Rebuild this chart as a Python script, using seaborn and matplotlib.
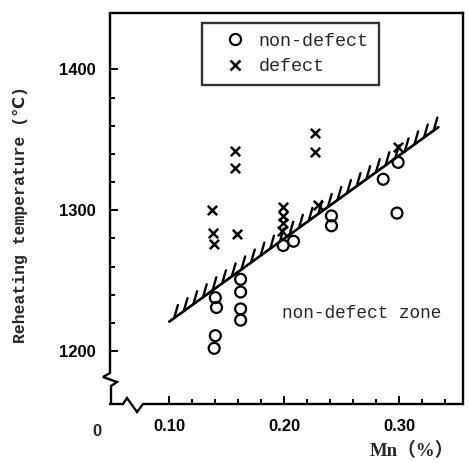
import numpy as np
import pandas as pd
import matplotlib
matplotlib.use("Agg")
import matplotlib.pyplot as plt
import matplotlib.patheffects as pe
from matplotlib.lines import Line2D
import seaborn as sns

# ---- data ----
nd_mn = [0.140, 0.141, 0.140, 0.139, 0.162, 0.162, 0.162, 0.162,
         0.199, 0.208, 0.241, 0.241, 0.286, 0.299, 0.298]
nd_temp = [1238, 1231, 1211, 1202, 1251, 1242, 1230, 1222,
           1275, 1278, 1296, 1289, 1322, 1334, 1298]
d_mn = [0.137, 0.138, 0.139, 0.157, 0.157, 0.159,
        0.199, 0.199, 0.199, 0.198, 0.227, 0.227, 0.229, 0.299]
d_temp = [1300, 1284, 1276, 1342, 1330, 1283,
          1302, 1296, 1291, 1285, 1355, 1341, 1304, 1345]
boundary_mn = [0.10, 0.334]
boundary_temp = [1221, 1359]
x_major = [0.10, 0.20, 0.30]
x_major_labels = ["0.10", "0.20", "0.30"]
y_major = [1200, 1300, 1400]
y_major_labels = ["1200", "1300", "1400"]
legend_labels = ["non-defect", "defect"]

sns.set_theme(style="white")
plt.rcParams["font.family"] = ["Liberation Sans", "DejaVu Sans"]

fig = plt.figure(figsize=(4.69, 4.63), dpi=100)
ax = fig.add_axes([110 / 469, 1 - 404 / 463, 353 / 469, 391 / 463])

df_nd = pd.DataFrame({"Mn": nd_mn, "T": nd_temp})
df_d = pd.DataFrame({"Mn": d_mn, "T": d_temp})

sns.scatterplot(data=df_nd, x="Mn", y="T", ax=ax, marker="o", s=62,
                facecolors="none", edgecolor="black", linewidth=1.6, zorder=3)
sns.scatterplot(data=df_d, x="Mn", y="T", ax=ax, marker="x", s=45,
                color="black", linewidth=1.8, zorder=3)

sns.lineplot(x=boundary_mn, y=boundary_temp, ax=ax, color="black", lw=1.7,
             path_effects=[pe.Stroke(), pe.withTickedStroke(spacing=8.5, angle=38, length=1.15)],
             zorder=2)

ax.set_xlim(0.0484, 0.3554)
ax.set_ylim(1162.5, 1440)

ax.set_xticks(x_major)
ax.set_xticklabels(x_major_labels)
ax.set_xticks(np.arange(0.12, 0.35, 0.02), minor=True)
ax.set_yticks(y_major)
ax.set_yticklabels(y_major_labels)
ax.set_yticks(np.arange(1220, 1390, 20), minor=True)
ax.tick_params(axis="both", which="major", direction="in", length=6, width=1.4,
               colors="black", labelsize=12)
ax.tick_params(axis="both", which="minor", direction="in", length=3.5, width=1.4,
               colors="black")
ax.tick_params(axis="x", which="both", bottom=True, pad=11)
ax.tick_params(axis="y", which="both", left=True, pad=10)
for lab in ax.get_xticklabels() + ax.get_yticklabels():
    lab.set_fontweight("bold")

ax.set_xlabel("")
ax.set_ylabel("")

for side in ["top", "right"]:
    ax.spines[side].set_color("black")
    ax.spines[side].set_linewidth(1.7)
ax.spines["left"].set_visible(False)
ax.spines["bottom"].set_visible(False)

def fr(px, py):
    return (px - 110) / 353, (404 - py) / 391

# broken bottom axis
bx = [110, 123, 127, 137, 143, 463]
by = [404, 404, 398, 412, 404, 404]
pts = [fr(a, b) for a, b in zip(bx, by)]
ax.add_line(Line2D([p[0] for p in pts], [p[1] for p in pts], transform=ax.transAxes,
                   color="black", lw=1.7, clip_on=False, solid_joinstyle="miter"))
# broken left axis
lx = [110, 110, 103, 117, 111, 111]
ly = [13, 373, 377, 382, 386, 404]
pts = [fr(a, b) for a, b in zip(lx, ly)]
ax.add_line(Line2D([p[0] for p in pts], [p[1] for p in pts], transform=ax.transAxes,
                   color="black", lw=1.7, clip_on=False, solid_joinstyle="miter"))

ax.text(*fr(97, 432), "0", transform=ax.transAxes, ha="center", va="center",
        fontsize=12, fontweight="bold")

ax.text(0.2676, 1226.5, "non-defect zone", ha="center", va="center",
        family=["Liberation Mono", "DejaVu Sans"], fontsize=12.8)

fig.text(20 / 469, 1 - 215 / 463, "Reheating temperature (℃)", rotation=90,
         ha="center", va="center", family=["Liberation Mono", "DejaVu Sans"],
         fontsize=11.8, fontweight="bold")
fig.text(412 / 469, 1 - 451 / 463, "Mn（%）", ha="center", va="center",
         family=["Liberation Serif", "Noto Sans CJK JP"], fontsize=13.5, fontweight="bold")

handles = [
    Line2D([], [], marker="o", ls="none", mfc="none", mec="black", mew=1.6, ms=8),
    Line2D([], [], marker="x", ls="none", color="black", mew=1.8, ms=7),
]
leg = ax.legend(handles, legend_labels, loc="upper left", bbox_to_anchor=(0.26, 0.975),
                frameon=True, fancybox=False, prop={"family": "Liberation Mono", "size": 13.2},
                handletextpad=0.05, borderpad=0.55, labelspacing=0.45, handlelength=2.5,
                borderaxespad=0)
leg.get_frame().set_edgecolor("black")
leg.get_frame().set_linewidth(1.7)

fig.savefig("out.png", dpi=100)
